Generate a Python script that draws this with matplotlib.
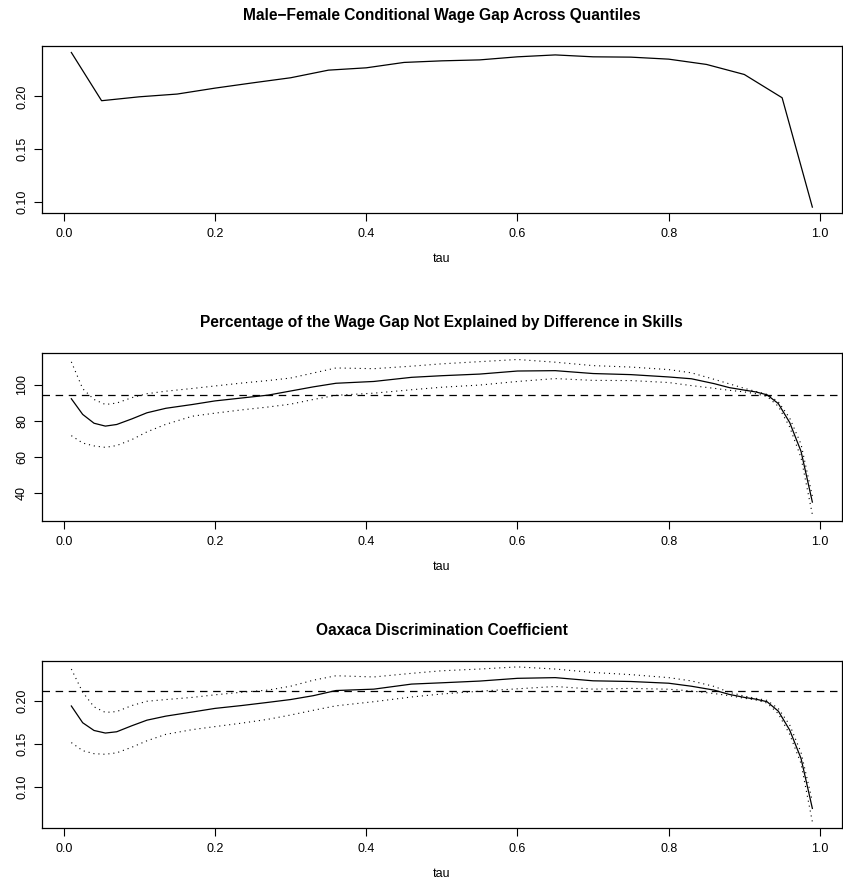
import matplotlib
matplotlib.use("Agg")
import matplotlib.pyplot as plt
import matplotlib.transforms as mtrans
import numpy as np

# panel 1: raw gap at the estimated quantiles
tau_gap = [0.01, 0.05, 0.10, 0.15, 0.20, 0.25, 0.30, 0.35, 0.40, 0.45, 0.50,
           0.55, 0.60, 0.65, 0.70, 0.75, 0.80, 0.85, 0.90, 0.95, 0.99]
wage_gap = [0.2415, 0.1959, 0.1996, 0.2022, 0.2078, 0.2128, 0.2176, 0.2248, 0.2270,
            0.2321, 0.2336, 0.2345, 0.2374, 0.2392, 0.2374, 0.2371, 0.2352, 0.2302,
            0.2207, 0.1987, 0.0953]

# panels 2 and 3: smoothed estimates with bands
tau_fine = [0.01, 0.025, 0.04, 0.055, 0.07, 0.09, 0.11, 0.135, 0.17, 0.20, 0.235,
            0.27, 0.30, 0.33, 0.36, 0.41, 0.46, 0.50, 0.55, 0.60, 0.65, 0.70, 0.75,
            0.80, 0.83, 0.86, 0.88, 0.90, 0.915, 0.93, 0.945, 0.96, 0.975, 0.99]

pct_est = [92.2, 83.5, 78.6, 77.0, 77.9, 81.0, 84.4, 86.9, 89.0, 91.0, 92.6, 94.2,
           96.5, 98.8, 100.8, 101.8, 104.1, 105.0, 105.9, 107.6, 107.8, 106.2, 105.6,
           104.3, 103.3, 100.6, 98.4, 97.0, 96.0, 94.4, 89.5, 79.0, 63.0, 34.8]
pct_hi = [112.7, 97.8, 91.8, 89.0, 89.8, 92.8, 95.0, 96.4, 97.9, 99.3, 100.9, 102.3,
          103.7, 106.5, 109.3, 108.9, 110.3, 111.6, 112.8, 114.0, 112.5, 110.6, 109.8,
          108.4, 106.6, 103.0, 100.5, 98.0, 96.3, 94.6, 90.5, 81.5, 67.0, 38.0]
pct_lo = [71.7, 67.6, 66.0, 65.2, 66.2, 69.5, 73.8, 78.0, 82.5, 84.2, 86.0, 87.6,
          89.2, 91.8, 94.1, 95.3, 97.2, 98.6, 99.8, 101.8, 103.4, 102.4, 102.3,
          101.2, 99.5, 98.0, 96.9, 96.0, 95.0, 93.5, 88.0, 76.5, 59.5, 27.9]
pct_ref = 94.4

oax_est = [0.194, 0.1745, 0.1655, 0.1625, 0.164, 0.171, 0.1775, 0.1822, 0.187, 0.1912,
           0.1945, 0.1982, 0.2015, 0.206, 0.212, 0.2136, 0.2195, 0.221, 0.223, 0.2262,
           0.227, 0.2233, 0.2225, 0.2205, 0.217, 0.2125, 0.2075, 0.204, 0.202, 0.199,
           0.188, 0.166, 0.133, 0.0748]
oax_hi = [0.237, 0.210, 0.193, 0.1865, 0.1875, 0.1945, 0.1995, 0.2015, 0.204, 0.207,
          0.210, 0.2125, 0.217, 0.224, 0.2292, 0.2278, 0.232, 0.235, 0.237, 0.2395,
          0.237, 0.233, 0.2305, 0.227, 0.2232, 0.2168, 0.210, 0.2055, 0.203, 0.2005,
          0.191, 0.172, 0.140, 0.083]
oax_lo = [0.1514, 0.142, 0.1385, 0.1378, 0.1395, 0.146, 0.1535, 0.161, 0.1665, 0.170,
          0.174, 0.1785, 0.1835, 0.189, 0.1942, 0.199, 0.2045, 0.208, 0.2112, 0.214,
          0.2167, 0.2136, 0.2145, 0.2135, 0.2115, 0.2085, 0.206, 0.203, 0.201, 0.1975,
          0.185, 0.161, 0.127, 0.0592]
oax_ref = 0.2109

titles = ["Male\u2212Female Conditional Wage Gap Across Quantiles",
          "Percentage of the Wage Gap Not Explained by Difference in Skills",
          "Oaxaca Discrimination Coefficient"]
yticks = [[0.10, 0.15, 0.20], [40, 60, 80, 100], [0.10, 0.15, 0.20]]
yticklabels = [["0.10", "0.15", "0.20"], ["40", "60", "80", "100"],
               ["0.10", "0.15", "0.20"]]
xticks = [0.0, 0.2, 0.4, 0.6, 0.8, 1.0]
xticklabels = ["0.0", "0.2", "0.4", "0.6", "0.8", "1.0"]

plt.rcParams["font.family"] = ["Liberation Sans", "DejaVu Sans"]

W, H = 843, 890
fig = plt.figure(figsize=(W / 100, H / 100), dpi=100)

left = 41.7 / W
width = (842 - 41.7) / W
boxes = [(46.3, 213.3), (353.3, 520.7), (660.7, 828.0)]


def r_lim(vals):
    lo, hi = min(vals), max(vals)
    pad = 0.04 * (hi - lo)
    return lo - pad, hi + pad


axes = []
for i, (top, bot) in enumerate(boxes):
    ax = fig.add_axes([left, 1 - bot / H, width, (bot - top) / H])
    axes.append(ax)

axes[0].plot(tau_gap, wage_gap, color="black", lw=0.9)
axes[0].set_ylim(*r_lim(wage_gap))

for ax, est, hi, lo, ref in [(axes[1], pct_est, pct_hi, pct_lo, pct_ref),
                             (axes[2], oax_est, oax_hi, oax_lo, oax_ref)]:
    ax.plot(tau_fine, est, color="black", lw=0.9)
    ax.plot(tau_fine, hi, color="black", lw=0.8, linestyle=(0, (1, 3.5)))
    ax.plot(tau_fine, lo, color="black", lw=0.8, linestyle=(0, (1, 3.5)))
    ax.axhline(ref, color="black", lw=0.9, linestyle=(0, (6, 4.5)))
    ax.set_ylim(*r_lim(est + hi + lo))

for i, ax in enumerate(axes):
    ax.set_xlim(*r_lim(tau_gap))
    ax.set_xticks(xticks)
    ax.set_xticklabels(xticklabels)
    ax.set_yticks(yticks[i])
    ax.set_yticklabels(yticklabels[i], rotation=90, va="center")
    ax.tick_params(direction="out", length=5.8, width=0.8, labelsize=9,
                   colors="black")
    ax.tick_params(axis="x", pad=5)
    ax.tick_params(axis="y", pad=4)
    for s in ax.spines.values():
        s.set_linewidth(0.9)
    tr_t = mtrans.offset_copy(ax.transAxes, fig=fig, y=30.5 * 0.72, units="points")
    ax.text(0.5, 1.0, titles[i], transform=tr_t, ha="center", va="center",
            fontsize=11.2, fontweight="bold")
    tr_b = mtrans.offset_copy(ax.transAxes, fig=fig, y=-46 * 0.72, units="points")
    ax.text(0.5, 0.0, "tau", transform=tr_b, ha="center", va="center", fontsize=9)

fig.savefig("out.png", dpi=100)
